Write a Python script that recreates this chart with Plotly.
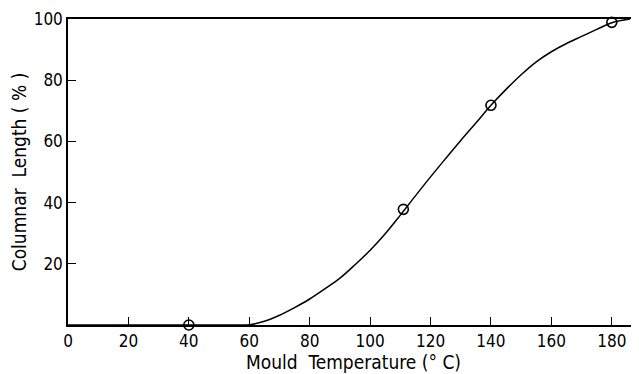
import plotly.graph_objects as go

# Measured points
temp_pts = [40, 111, 140, 180]
length_pts = [0, 37.8, 71.8, 98.9]

# Fitted curve
curve_x = [0, 20, 40, 58, 60, 65, 70, 75, 80, 85, 90, 95, 100, 105, 110, 115, 120, 125, 130,
           135, 140, 145, 150, 155, 160, 165, 170, 175, 180, 186]
curve_y = [0, 0, 0, 0, 0.05, 1.2, 3.2, 5.7, 8.5, 11.8, 15.3, 19.7, 24.4, 29.8, 35.9, 42.2, 48.4,
           54.4, 60.3, 66.0, 71.8, 77.0, 81.8, 86.0, 89.3, 92.0, 94.3, 96.6, 98.8, 100]

x_ticks = [0, 20, 40, 60, 80, 100, 120, 140, 160, 180]
y_ticks = [20, 40, 60, 80, 100]

FONT = "DejaVu Sans Condensed, Liberation Sans Narrow, sans-serif"

fig = go.Figure()
fig.add_trace(go.Scatter(x=curve_x, y=curve_y, mode="lines",
                         line=dict(color="black", width=1.5, shape="spline", smoothing=1.0),
                         hoverinfo="skip", cliponaxis=False))
fig.add_trace(go.Scatter(x=temp_pts, y=length_pts, mode="markers",
                         marker=dict(symbol="circle-open", size=10, color="black",
                                     line=dict(width=1.6, color="black")),
                         cliponaxis=False))

# page body has an 8px default margin, so the figure is sized to fit inside the window
fig.update_layout(
    width=631, height=366,
    margin=dict(l=60, r=0, t=11, b=49),
    paper_bgcolor="white", plot_bgcolor="white",
    showlegend=False,
    font=dict(family=FONT, size=17, color="black"),
    xaxis=dict(range=[0, 189], tickvals=x_ticks, ticktext=[str(v) for v in x_ticks],
               ticks="inside", ticklen=8, tickwidth=1.3, tickcolor="black",
               showline=True, linecolor="black", linewidth=1.5, mirror=True,
               showgrid=False, zeroline=False, automargin=False,
               title=dict(text="Mould\u00a0\u00a0Temperature (°\u00a0C)", standoff=0,
                          font=dict(size=19))),
    yaxis=dict(range=[0, 100], tickvals=y_ticks, ticktext=[str(v) for v in y_ticks],
               ticks="inside", ticklen=8, tickwidth=1.3, tickcolor="black",
               showline=True, linecolor="black", linewidth=1.5,
               showgrid=False, zeroline=False, automargin=False,
               title=dict(text="Columnar\u00a0 Length (\u00a0%\u00a0)", standoff=4,
                          font=dict(size=19))),
)

fig.write_html("out.html")
